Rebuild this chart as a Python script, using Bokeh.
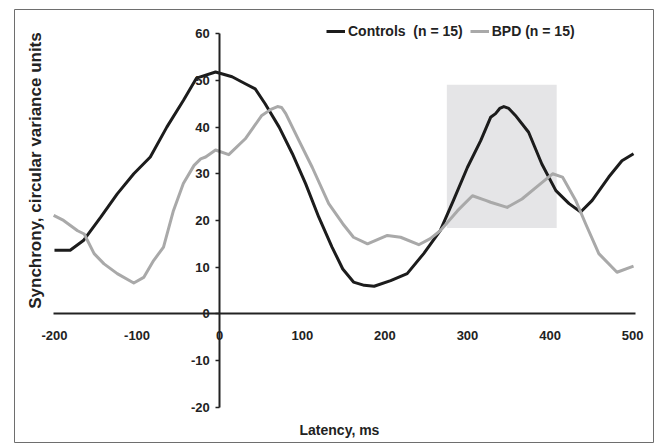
import math
from bokeh.plotting import figure
from bokeh.models import (Range1d, FixedTicker, Label, Legend, LegendItem)
from bokeh.embed import file_html
from bokeh.resources import INLINE

# ---- data ----
ctrl_x = [-200, -181, -165, -144, -124, -104, -84, -64, -44, -28, -5, 15, 31, 43, 55,
          72, 88, 104, 120, 136, 149, 162, 175, 187, 207, 227, 247, 267, 283, 300, 316,
          328, 334, 339, 344, 350, 358, 374, 390, 407, 423, 437, 451, 471, 487, 501]
ctrl_y = [13.6, 13.6, 15.7, 20.7, 25.7, 30.0, 33.6, 40.0, 45.7, 50.5, 51.8, 50.8, 49.3, 48.2, 45.0,
          40.0, 34.3, 27.9, 20.7, 14.3, 9.6, 6.8, 6.1, 5.9, 7.1, 8.6, 12.9, 17.8, 24.3, 31.4, 37.1,
          42.1, 42.9, 44.0, 44.4, 44.0, 42.5, 38.9, 32.1, 26.4, 23.6, 21.8, 24.3, 29.3, 32.8, 34.3]

bpd_x = [-201, -189, -172, -164, -152, -140, -124, -104, -92, -80, -68, -56, -44, -31, -23,
         -17, -5, 11, 31, 51, 62, 70, 75, 80, 96, 112, 132, 149, 162, 179, 203, 219, 241, 255,
         267, 288, 306, 322, 328, 348, 366, 386, 403, 415, 431, 443, 459, 481, 501]
bpd_y = [21.1, 20.0, 17.8, 17.1, 12.9, 10.7, 8.6, 6.6, 7.8, 11.4, 14.3, 22.1, 27.9, 31.8, 33.2,
         33.6, 35.1, 34.1, 37.5, 42.5, 43.8, 44.4, 44.2, 42.9, 37.1, 31.4, 23.6, 19.3, 16.4, 15.0, 16.8, 16.4, 14.8, 16.1,
         17.8, 22.1, 25.3, 24.3, 23.9, 22.8, 24.6, 27.5, 30.0, 29.3, 24.3, 19.3, 12.9, 8.9, 10.2]

window_left, window_right = 275, 408
window_bottom, window_top = 18.4, 49.1

x_ticks = [-200, -100, 0, 100, 200, 300, 400, 500]
y_ticks = [-20, -10, 0, 10, 20, 30, 40, 50, 60]

ctrl_label = "Controls  (n = 15)"
bpd_label = "BPD (n = 15)"
x_title = "Latency, ms"
y_title = "Synchrony, circular variance units"

FONT = "Liberation Sans"
BLACK = "#1c1c1c"
GRAY = "#a9a9a9"

p = figure(width=654, height=443,
           x_range=Range1d(-248.4, 526.4), y_range=Range1d(-27.79, 65.2),
           output_backend="svg", toolbar_location=None,
           min_border_left=14, min_border_right=0, min_border_top=9, min_border_bottom=0)
p.outline_line_color = "#6e6e6e"
p.outline_line_width = 1
p.xgrid.visible = False
p.ygrid.visible = False
p.background_fill_color = "white"
p.border_fill_color = "white"

p.quad(left=window_left, right=window_right, bottom=window_bottom, top=window_top,
       fill_color="#e5e5e7", line_color=None)

r_ctrl = p.line(ctrl_x, ctrl_y, line_color=BLACK, line_width=3, line_join="round")
r_bpd = p.line(bpd_x, bpd_y, line_color=GRAY, line_width=3, line_join="round")

# axes crossing at zero
xa = p.xaxis[0]
ya = p.yaxis[0]
xa.fixed_location = 0
ya.fixed_location = 0
xa.ticker = FixedTicker(ticks=x_ticks)
ya.ticker = FixedTicker(ticks=y_ticks)
xa.major_label_overrides = {t: str(t) for t in x_ticks}
ya.major_label_overrides = {t: str(t) for t in y_ticks}
xa.bounds = (-201.6, 503.4)
ya.bounds = (-20, 60)
for ax in (xa, ya):
    ax.axis_line_color = "#222222"
    ax.axis_line_width = 2
    ax.major_tick_line_color = "#222222"
    ax.major_tick_line_width = 1.5
    ax.minor_tick_line_color = None
    ax.major_label_text_font = FONT
    ax.major_label_text_font_style = "bold"
    ax.major_label_text_font_size = "13px"
    ax.major_label_text_color = "#222222"
xa.major_tick_out = 0
xa.major_tick_in = 0
xa.major_label_standoff = 17
ya.major_tick_out = 4
ya.major_tick_in = 0
ya.major_label_standoff = 6

p.add_layout(Label(x=-223, y=30.7, text=y_title, angle=math.pi / 2,
                   text_align="center", text_baseline="middle",
                   text_font=FONT, text_font_style="bold", text_font_size="17px",
                   text_color="#222222"))
p.add_layout(Label(x=145, y=-25.0, text=x_title,
                   text_align="center", text_baseline="middle",
                   text_font=FONT, text_font_style="bold", text_font_size="14px",
                   text_color="#222222"))

legend = Legend(items=[LegendItem(label=ctrl_label, renderers=[r_ctrl]),
                       LegendItem(label=bpd_label, renderers=[r_bpd])],
                orientation="horizontal", location=(312, 404),
                border_line_color=None, background_fill_alpha=0,
                padding=0, margin=0, spacing=7,
                glyph_width=19, glyph_height=16, label_height=16, label_standoff=3,
                label_text_font=FONT, label_text_font_style="bold",
                label_text_font_size="14px", label_text_color="#222222")
p.add_layout(legend, "center")

open("out.html", "w").write(file_html(p, INLINE))
